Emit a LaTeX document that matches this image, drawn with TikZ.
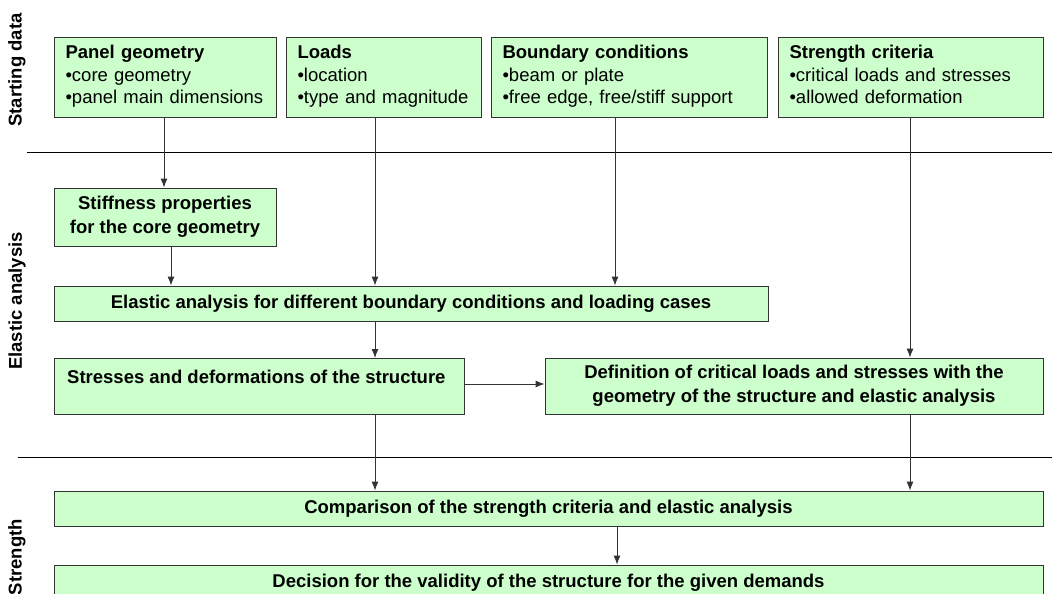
\documentclass[tikz,border=0pt]{standalone}
\usepackage{fontspec}
\setmainfont{Liberation Sans}
\usetikzlibrary{arrows.meta}
\definecolor{boxgreen}{HTML}{CCFFCC}
\definecolor{edgegray}{HTML}{333333}
\tikzset{
  topbox/.style={draw=edgegray, fill=boxgreen, line width=0.9pt, inner sep=0pt, align=left, font=\fontsize{18.5}{22.5}\selectfont},
  lowbox/.style={draw=edgegray, fill=boxgreen, line width=0.9pt, inner sep=0pt, align=center, font=\bfseries\fontsize{18.5}{24}\selectfont},
  arr/.style={draw=edgegray, line width=0.9pt, -{Latex[length=9pt,width=7pt]}},
  sep/.style={draw=black, line width=0.9pt},
  side/.style={rotate=90, font=\bfseries\fontsize{18.5}{20}\selectfont}
}
\begin{document}
\begin{tikzpicture}[x=1pt,y=-1pt]
\useasboundingbox (0,0) rectangle (1052,594);
\clip (0,0) rectangle (1052,594);
\fill[white] (0,0) rectangle (1052,594);
% separators
\coordinate (s1a) at (27,152); \coordinate (s1b) at (1052,152);
\coordinate (s2a) at (18,457); \coordinate (s2b) at (1052,457);
\draw[sep] (s1a) -- (s1b);
\draw[sep] (s2a) -- (s2b);
% side labels
\node[side] (lab1) at (17,70) {Starting data};
\node[side] (lab2) at (17,301) {Elastic analysis};
\node[side] (lab3) at (17,557) {Strength};
% top boxes
\node[topbox, minimum width=222, minimum height=80, text width=199] (panel) at (165,77)
  {\strut\textbf{Panel geometry}\\•core geometry\\•panel main dimensions\strut};
\node[topbox, minimum width=195, minimum height=80, text width=172] (loads) at (383.5,77)
  {\strut\textbf{Loads}\\•location\\•type and magnitude\strut};
\node[topbox, minimum width=276, minimum height=80, text width=253] (bound) at (629,77)
  {\strut\textbf{Boundary conditions}\\•beam or plate\\•free edge, free/stiff support\strut};
\node[topbox, minimum width=265, minimum height=80, text width=242] (crit) at (910.5,77)
  {\strut\textbf{Strength criteria}\\•critical loads and stresses\\•allowed deformation\strut};
% lower boxes
\node[lowbox, minimum width=222, minimum height=58] (stiff) at (165,217)
  {Stiffness properties\\for the core geometry};
\node[lowbox, minimum width=714, minimum height=35] (elastic) at (411,303.5)
  {Elastic analysis for different boundary conditions and loading cases};
\node[lowbox, minimum width=410, minimum height=56, anchor=north west] (stress) at (54,358) {};
\node[anchor=west, font=\bfseries\fontsize{18.5}{24}\selectfont, inner sep=0pt] (stresst) at (67,377) {Stresses and deformations of the structure};
\node[lowbox, minimum width=498, minimum height=56] (defin) at (794,386)
  {Definition of critical loads and stresses with the\\geometry of the structure and elastic analysis};
\node[lowbox, minimum width=989, minimum height=35] (comp) at (548.5,508.5)
  {Comparison of the strength criteria and elastic analysis};
\node[lowbox, minimum width=989, minimum height=36] (decis) at (548.5,583)
  {Decision for the validity of the structure for the given demands};
% arrows
\draw[arr] (panel.south -| 164,0) -- (stiff.north -| 164,0);
\draw[arr] (stiff.south -| 171,0) -- (elastic.north -| 171,0);
\draw[arr] (loads.south -| 375,0) -- (elastic.north -| 375,0);
\draw[arr] (bound.south -| 615,0) -- (elastic.north -| 615,0);
\draw[arr] (crit.south -| 910,0) -- (defin.north -| 910,0);
\draw[arr] (elastic.south -| 375,0) -- (stress.north -| 375,0);
\draw[arr] (stress.east |- 0,384) -- (defin.west |- 0,384);
\draw[arr] (stress.south -| 375,0) -- (comp.north -| 375,0);
\draw[arr] (defin.south -| 910,0) -- (comp.north -| 910,0);
\draw[arr] (comp.south -| 617,0) -- (decis.north -| 617,0);
\end{tikzpicture}
\end{document}
